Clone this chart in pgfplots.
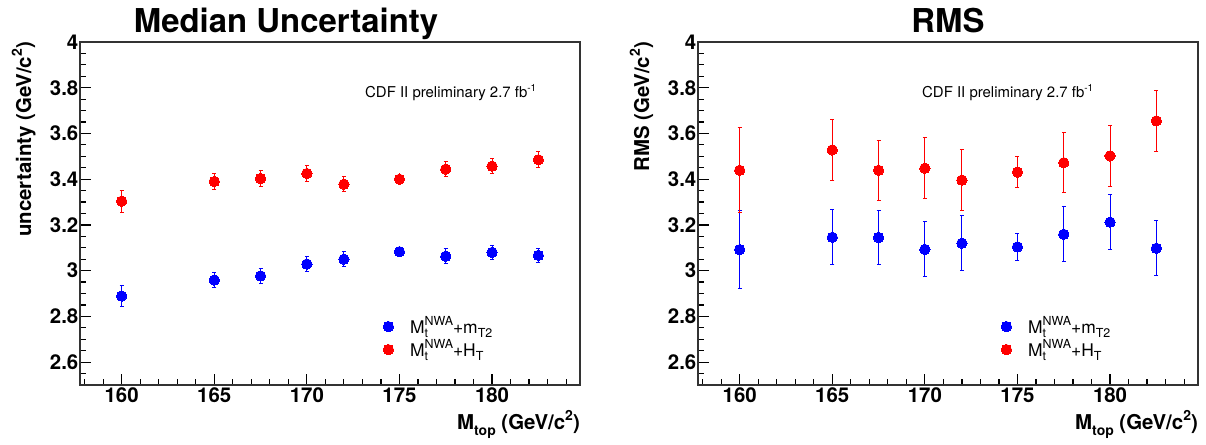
\documentclass[border=0pt]{standalone}
\usepackage{fontspec}
\setmainfont{TeX Gyre Heros}
\usepackage{pgfplots}
\usepackage{pgfplotstable}
\pgfplotsset{compat=1.18}

% Median uncertainty
\pgfplotstableread{
x y e
160 2.889 0.047
165 2.959 0.032
167.5 2.977 0.032
170 3.029 0.034
172 3.050 0.033
175 3.083 0.010
177.5 3.063 0.032
180 3.080 0.032
182.5 3.067 0.032
}\medBlue
\pgfplotstableread{
x y e
160 3.304 0.048
165 3.390 0.034
167.5 3.403 0.035
170 3.425 0.035
172 3.378 0.034
175 3.400 0.010
177.5 3.444 0.034
180 3.457 0.034
182.5 3.485 0.034
}\medRed
% RMS
\pgfplotstableread{
x y e
160 3.092 0.170
165 3.146 0.121
167.5 3.145 0.120
170 3.093 0.120
172 3.120 0.120
175 3.104 0.060
177.5 3.159 0.120
180 3.212 0.121
182.5 3.098 0.121
}\rmsBlue
\pgfplotstableread{
x y e
160 3.439 0.186
165 3.528 0.133
167.5 3.439 0.132
170 3.448 0.133
172 3.396 0.133
175 3.431 0.067
177.5 3.472 0.132
180 3.502 0.132
182.5 3.655 0.133
}\rmsRed

\newcommand{\up}[2][12.5]{\raisebox{0.45em}{\fontsize{#1}{#1}\selectfont #2}}
\newcommand{\dn}[2][12.5]{\raisebox{-0.28em}{\fontsize{#1}{#1}\selectfont #2}}
\newcommand{\supsub}[2]{\makebox[0pt][l]{\dn{#2}}\up{#1}}

\pgfplotsset{
  rootax/.style={
    scale only axis, width=500bp, height=343bp,
    xmin=157.75, xmax=184.75, ymin=2.5, ymax=4,
    xtick={160,165,170,175,180},
    ytick={2.6,2.8,3,3.2,3.4,3.6,3.8,4},
    minor xtick={158,159,...,184},
    minor ytick={2.5,2.55,2.65,2.7,2.75,2.85,2.9,2.95,3.05,3.1,3.15,3.25,3.3,3.35,3.45,3.5,3.55,3.65,3.7,3.75,3.85,3.9,3.95},
    xtick pos=bottom, ytick pos=left, tick align=inside,
    major tick length=11bp, minor tick length=5.5bp,
    every tick/.style={black, line width=1.2bp},
    axis line style={line width=1.5bp, black!80},
    tick label style={font=\fontsize{20.5}{24}\selectfont\bfseries},
    /pgf/number format/assume math mode=true,
    yticklabel style={inner sep=1.5bp},
    xticklabel style={inner sep=2.5bp},
    legend cell align=left,
    legend image code/.code={\draw[#1] plot coordinates {(0bp,6bp)};},
    legend style={draw=none, fill=none, inner sep=0pt,
      font=\fontsize{17.5}{20}\selectfont,
      nodes={inner sep=0pt, text height=12bp, text depth=11bp},
      /tikz/every odd column/.append style={column sep=16.5bp},
      at={(rel axis cs:0.606,0.187)}, anchor=north west},
  },
  ptB/.style={blue, only marks, mark=*, mark size=5.2bp, mark options={fill=blue, draw=blue, line width=0pt},
    error bars/.cd, y dir=both, y explicit,
    error bar style={line width=1bp, blue},
    error mark options={rotate=90, mark size=2bp, line width=1bp, blue}},
  ptR/.style={red, only marks, mark=*, mark size=5.2bp, mark options={fill=red, draw=red, line width=0pt},
    error bars/.cd, y dir=both, y explicit,
    error bar style={line width=1bp, red},
    error mark options={rotate=90, mark size=2bp, line width=1bp, red}},
}

\begin{document}
\begin{tikzpicture}[x=1bp, y=1bp]
\path[use as bounding box] (0,0) rectangle (1206,445);

% ---------- left panel ----------
\begin{axis}[rootax, at={(80bp,60bp)}, anchor=south west]
\addplot[ptB] table[x=x, y=y, y error=e] {\medBlue};
\addlegendentry{M\supsub{NWA}{t}+m\dn{T2}}
\addplot[ptR] table[x=x, y=y, y error=e] {\medRed};
\addlegendentry{M\supsub{NWA}{t}+H\dn{T}}
\end{axis}

% ---------- right panel ----------
\begin{axis}[rootax, at={(698bp,60bp)}, anchor=south west]
\addplot[ptB] table[x=x, y=y, y error=e] {\rmsBlue};
\addlegendentry{M\supsub{NWA}{t}+m\dn{T2}}
\addplot[ptR] table[x=x, y=y, y error=e] {\rmsRed};
\addlegendentry{M\supsub{NWA}{t}+H\dn{T}}
\end{axis}

% titles
\node[anchor=base, font=\fontsize{33}{36}\selectfont\bfseries, inner sep=0pt] at (286,412) {Median Uncertainty};
\node[anchor=base, font=\fontsize{33}{36}\selectfont\bfseries, inner sep=0pt] at (948,412) {RMS};

% annotation
\node[anchor=base west, font=\fontsize{15}{17}\selectfont, inner sep=0pt] at (365,347) {CDF II preliminary 2.7 fb\up[10]{-1}};
\node[anchor=base west, font=\fontsize{15}{17}\selectfont, inner sep=0pt] at (922,347) {CDF II preliminary 2.7 fb\up[10]{-1}};

% y labels
\node[rotate=90, anchor=base east, font=\fontsize{20.5}{24}\selectfont\bfseries, inner sep=0pt] at (31,403) {uncertainty (GeV/c\up[14]{2})};
\node[rotate=90, anchor=base east, font=\fontsize{20.5}{24}\selectfont\bfseries, inner sep=0pt] at (649,403) {RMS (GeV/c\up[14]{2})};

% x labels
\node[anchor=base east, font=\fontsize{20.5}{24}\selectfont\bfseries, inner sep=0pt] at (580,15) {M\dn[14]{top} (GeV/c\up[14]{2})};
\node[anchor=base east, font=\fontsize{20.5}{24}\selectfont\bfseries, inner sep=0pt] at (1198,15) {M\dn[14]{top} (GeV/c\up[14]{2})};
\end{tikzpicture}
\end{document}
